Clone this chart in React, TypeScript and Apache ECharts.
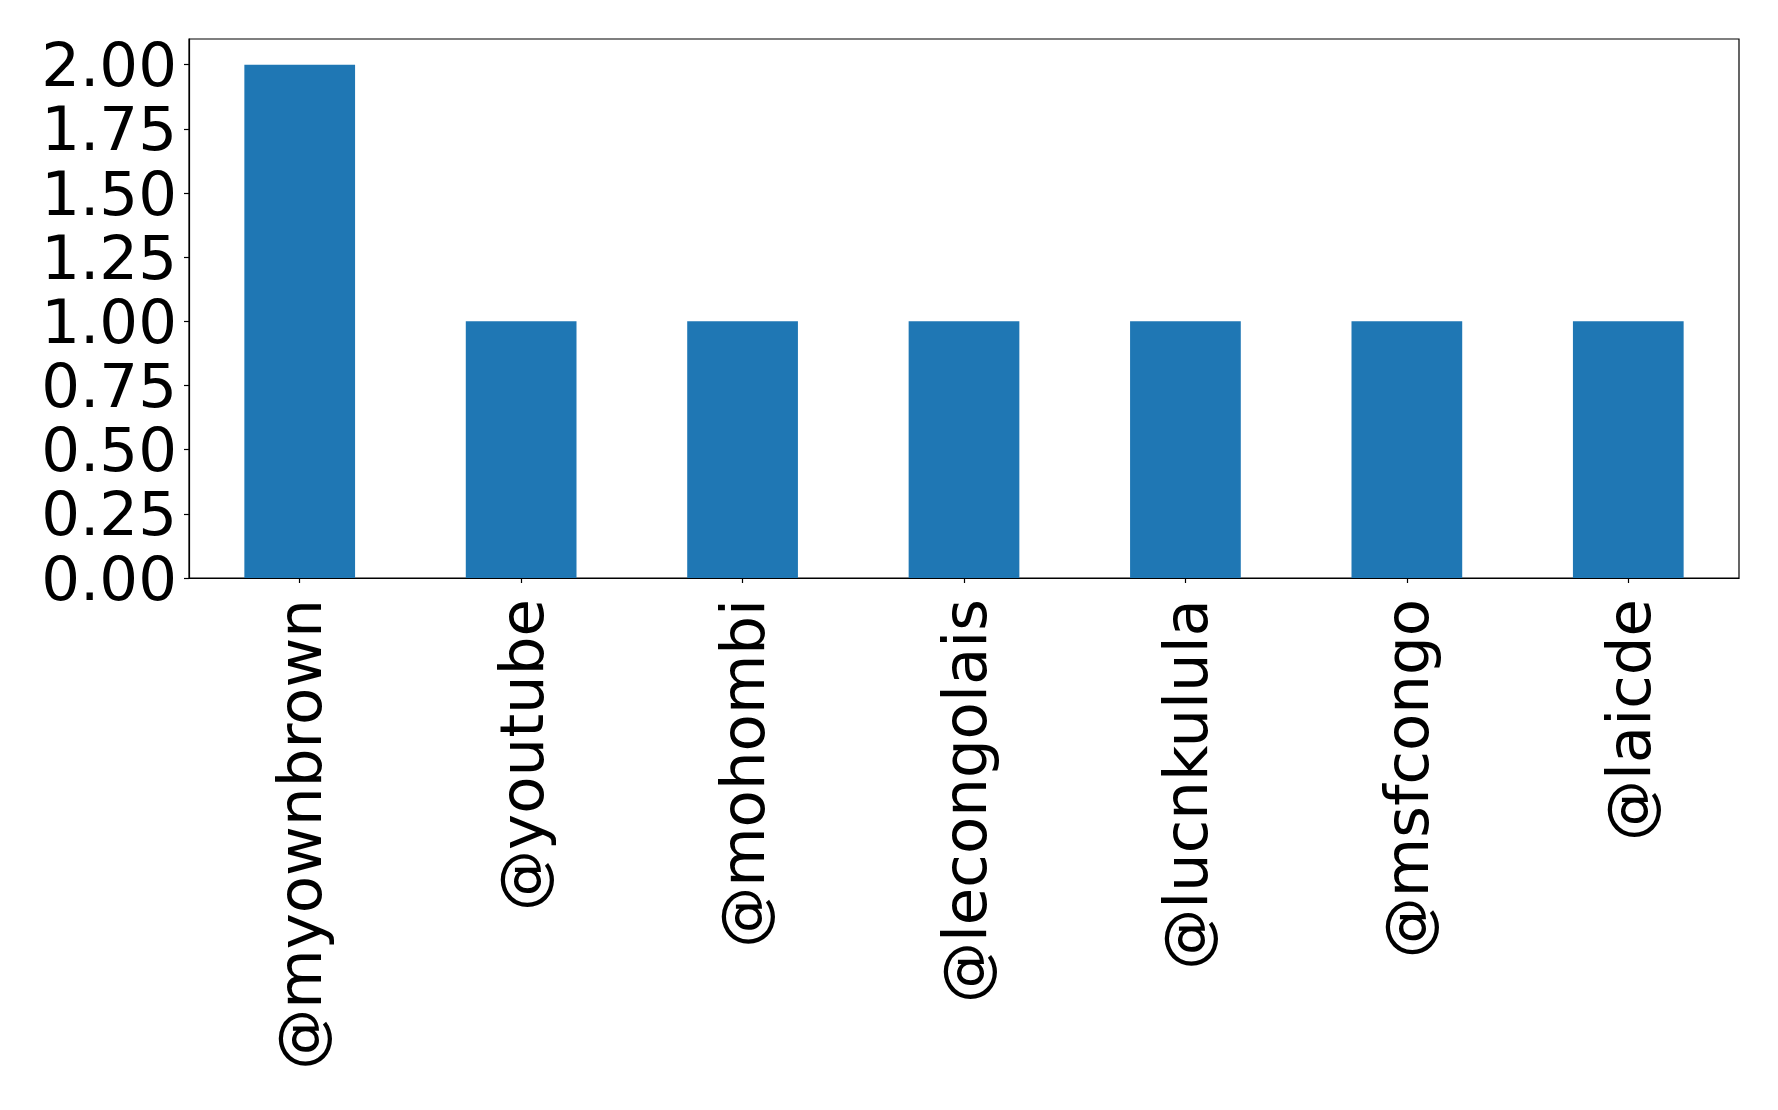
import React, { useEffect, useRef } from "react";
import * as echarts from "echarts";

const categories = ["@myownbrown", "@youtube", "@mohombi", "@lecongolais", "@lucnkulula", "@msfcongo", "@laicde"];
const values = [2, 1, 1, 1, 1, 1, 1];

export default function App() {
  const ref = useRef<HTMLDivElement>(null);
  useEffect(() => {
    const chart = echarts.init(ref.current!, null, { renderer: "svg" });
    chart.setOption({
      animation: false,
      grid: {
        left: 189,
        top: 39,
        right: 39,
        bottom: 532,
        show: true,
        borderColor: "#000",
        borderWidth: 1.2,
        backgroundColor: "transparent",
      },
      xAxis: {
        type: "category",
        data: categories,
        boundaryGap: true,
        axisLine: { show: true, lineStyle: { color: "#000", width: 1.2 } },
        axisTick: { show: true, alignWithLabel: true, length: 5, lineStyle: { color: "#000", width: 1.2 } },
        axisLabel: {
          rotate: 90,
          margin: 21,
          fontSize: 61,
          color: "#000",
          fontFamily: "DejaVu Sans",
          interval: 0,
        },
        splitLine: { show: false },
      },
      yAxis: {
        type: "value",
        min: 0,
        max: 2.1,
        interval: 0.25,
        axisLine: { show: true, lineStyle: { color: "#000", width: 1.2 } },
        axisTick: { show: true, length: 5, lineStyle: { color: "#000", width: 1.2 } },
        axisLabel: {
          margin: 12,
          fontSize: 61,
          color: "#000",
          fontFamily: "DejaVu Sans",
          showMaxLabel: false,
          formatter: (v: number) => (Math.abs(v / 0.25 - Math.round(v / 0.25)) < 1e-6 ? v.toFixed(2) : ""),
        },
        splitLine: { show: false },
      },
      series: [
        {
          type: "bar",
          data: values,
          barWidth: "50%",
          itemStyle: { color: "#1f77b4" },
        },
      ],
    });
    return () => chart.dispose();
  }, []);
  return <div ref={ref} style={{ width: 1778, height: 1110, margin: -8 }} />;
}
